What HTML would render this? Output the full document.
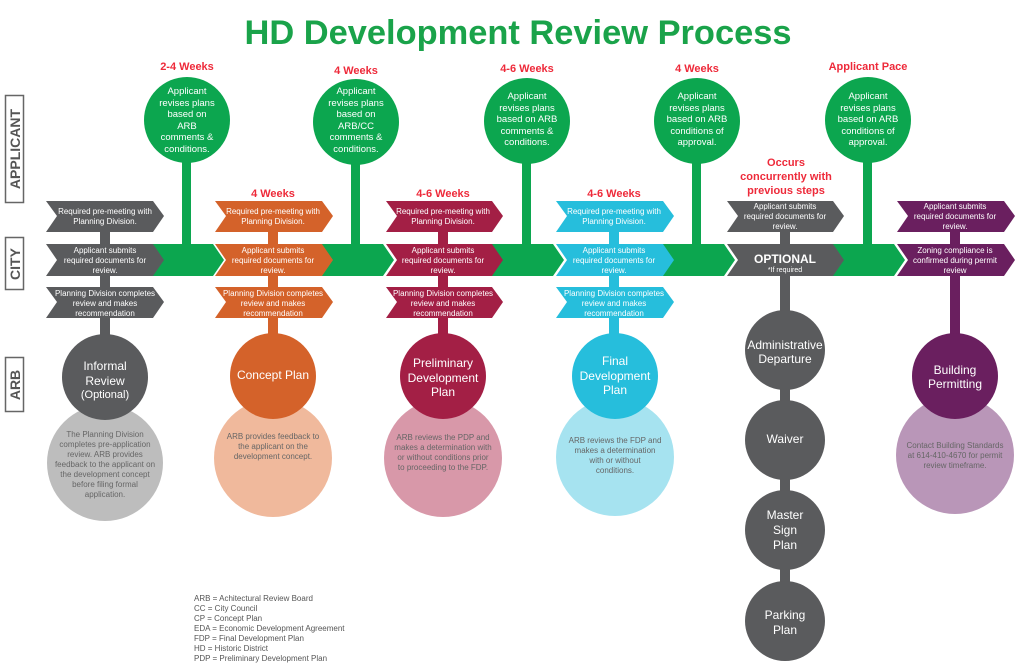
<!DOCTYPE html>
<html><head><meta charset="utf-8"><style>
html,body{margin:0;padding:0;background:#fff}
svg{display:block;font-family:"Liberation Sans",sans-serif}
.w{fill:#fff;font-size:8px;text-anchor:middle}
.gw{fill:#fff;font-size:9.5px;text-anchor:middle}
.r{fill:#ee2a3a;font-size:11px;font-weight:bold;text-anchor:middle}
.cw{fill:#fff;font-size:12px;text-anchor:middle}
.pt{fill:#666;font-size:8px;text-anchor:middle}
.lg{fill:#555;font-size:8px}
.lab{fill:#555;font-size:14px;font-weight:bold;text-anchor:middle}
</style></head><body>
<svg width="1024" height="666" viewBox="0 0 1024 666">
<text x="518" y="44" fill="#1aa34a" font-size="34" font-weight="bold" text-anchor="middle" textLength="547" lengthAdjust="spacingAndGlyphs">HD Development Review Process</text>

<!-- side labels -->
<rect x="5.5" y="95.5" width="18" height="107" fill="none" stroke="#666" stroke-width="1.5"/>
<text class="lab" transform="translate(20,149) rotate(-90)">APPLICANT</text>
<rect x="5.5" y="237.5" width="18" height="52" fill="none" stroke="#666" stroke-width="1.5"/>
<text class="lab" transform="translate(20,264) rotate(-90)">CITY</text>
<rect x="5.5" y="357.5" width="18" height="54" fill="none" stroke="#666" stroke-width="1.5"/>
<text class="lab" transform="translate(20,385) rotate(-90)">ARB</text>

<!-- green stems & connectors -->
<g fill="#0ca64f">
<rect x="182" y="150" width="9" height="100"/><rect x="351" y="150" width="9" height="100"/><rect x="522" y="150" width="9" height="100"/><rect x="692" y="150" width="9" height="100"/><rect x="863" y="150" width="9" height="100"/>
<polygon points="150,244 213,244 224,260 213,276 150,276 161,260"/>
<polygon points="319,244 383,244 394,260 383,276 319,276 330,260"/>
<polygon points="490,244 553,244 564,260 553,276 490,276 501,260"/>
<polygon points="660,244 724,244 735,260 724,276 660,276 671,260"/>
<polygon points="831,244 894,244 905,260 894,276 831,276 842,260"/>
<circle cx="187" cy="120" r="43"/><circle cx="356" cy="122" r="43"/><circle cx="527" cy="121" r="43"/><circle cx="697" cy="121" r="43"/><circle cx="868" cy="120" r="43"/>
</g>
<text class="r" x="187" y="70">2-4 Weeks</text>
<text class="r" x="356" y="74">4 Weeks</text>
<text class="r" x="527" y="72">4-6 Weeks</text>
<text class="r" x="697" y="72">4 Weeks</text>
<text class="r" x="868" y="70">Applicant Pace</text>
<g class="gw">
<text x="187" y="94">Applicant</text><text x="187" y="106">revises plans</text><text x="187" y="117">based on</text><text x="187" y="129">ARB</text><text x="187" y="140">comments &amp;</text><text x="187" y="152">conditions.</text>
<text x="356" y="94">Applicant</text><text x="356" y="106">revises plans</text><text x="356" y="117">based on</text><text x="356" y="129">ARB/CC</text><text x="356" y="140">comments &amp;</text><text x="356" y="152">conditions.</text>
<text x="527" y="99">Applicant</text><text x="527" y="111">revises plans</text><text x="527" y="122">based on ARB</text><text x="527" y="134">comments &amp;</text><text x="527" y="145">conditions.</text>
<text x="697" y="99">Applicant</text><text x="697" y="111">revises plans</text><text x="697" y="122">based on ARB</text><text x="697" y="134">conditions of</text><text x="697" y="145">approval.</text>
<text x="868" y="99">Applicant</text><text x="868" y="111">revises plans</text><text x="868" y="122">based on ARB</text><text x="868" y="134">conditions of</text><text x="868" y="145">approval.</text>
</g>
<text class="r" x="273" y="197">4 Weeks</text>
<text class="r" x="443" y="197">4-6 Weeks</text>
<text class="r" x="614" y="197">4-6 Weeks</text>
<text class="r" x="786" y="166">Occurs</text>
<text class="r" x="786" y="180">concurrently with</text>
<text class="r" x="786" y="194">previous steps</text>

<!-- column 1 gray -->
<rect x="100" y="210" width="10" height="140" fill="#5a5b5d"/>
<circle cx="105" cy="463" r="58" fill="#bdbdbd"/>
<circle cx="105" cy="377" r="43" fill="#5a5b5d"/>
<g fill="#5a5b5d">
<polygon points="46,201 153,201 164,216 153,232 46,232 57,216"/>
<polygon points="46,244 153,244 164,260 153,276 46,276 57,260"/>
<polygon points="46,287 153,287 164,302 153,318 46,318 57,302"/>
</g>
<!-- column 2 orange -->
<rect x="268" y="210" width="10" height="140" fill="#d4622a"/>
<circle cx="273" cy="458" r="59" fill="#f0b99c"/>
<circle cx="273" cy="376" r="43" fill="#d4622a"/>
<g fill="#d4622a">
<polygon points="215,201 322,201 333,216 322,232 215,232 226,216"/>
<polygon points="215,244 322,244 333,260 322,276 215,276 226,260"/>
<polygon points="215,287 322,287 333,302 322,318 215,318 226,302"/>
</g>
<!-- column 3 crimson -->
<rect x="438" y="210" width="10" height="140" fill="#a31f45"/>
<circle cx="443" cy="458" r="59" fill="#d898a9"/>
<circle cx="443" cy="376" r="43" fill="#a31f45"/>
<g fill="#a31f45">
<polygon points="386,201 492,201 503,216 492,232 386,232 397,216"/>
<polygon points="386,244 492,244 503,260 492,276 386,276 397,260"/>
<polygon points="386,287 492,287 503,302 492,318 386,318 397,302"/>
</g>
<!-- column 4 cyan -->
<rect x="609" y="210" width="10" height="140" fill="#26bedc"/>
<circle cx="615" cy="457" r="59" fill="#a6e3f0"/>
<circle cx="615" cy="376" r="43" fill="#26bedc"/>
<g fill="#26bedc">
<polygon points="556,201 663,201 674,216 663,232 556,232 567,216"/>
<polygon points="556,244 663,244 674,260 663,276 556,276 567,260"/>
<polygon points="556,287 663,287 674,302 663,318 556,318 567,302"/>
</g>
<!-- column 5 optional -->
<rect x="780" y="210" width="10" height="410" fill="#5a5b5d"/>
<g fill="#5a5b5d">
<circle cx="785" cy="350" r="40"/><circle cx="785" cy="440" r="40"/><circle cx="785" cy="530" r="40"/><circle cx="785" cy="621" r="40"/>
<polygon points="727,201 833,201 844,216 833,232 727,232 738,216"/>
<polygon points="727,244 833,244 844,260 833,276 727,276 738,260"/>
</g>
<!-- column 6 purple -->
<rect x="950" y="210" width="10" height="140" fill="#6a1f5f"/>
<circle cx="955" cy="455" r="59" fill="#b996b8"/>
<circle cx="955" cy="376" r="43" fill="#6a1f5f"/>
<g fill="#6a1f5f">
<polygon points="897,201 1004,201 1015,216 1004,232 897,232 908,216"/>
<polygon points="897,244 1004,244 1015,260 1004,276 897,276 908,260"/>
</g>

<!-- arrow texts -->
<g class="w">
<text x="105" y="214">Required pre-meeting with</text><text x="105" y="224">Planning Division.</text>
<text x="105" y="253">Applicant submits</text><text x="105" y="263">required documents for</text><text x="105" y="273">review.</text>
<text x="105" y="296">Planning Division completes</text><text x="105" y="306">review and makes</text><text x="105" y="316">recommendation</text>
<text x="273" y="214">Required pre-meeting with</text><text x="273" y="224">Planning Division.</text>
<text x="273" y="253">Applicant submits</text><text x="273" y="263">required documents for</text><text x="273" y="273">review.</text>
<text x="273" y="296">Planning Division completes</text><text x="273" y="306">review and makes</text><text x="273" y="316">recommendation</text>
<text x="443" y="214">Required pre-meeting with</text><text x="443" y="224">Planning Division.</text>
<text x="443" y="253">Applicant submits</text><text x="443" y="263">required documents for</text><text x="443" y="273">review.</text>
<text x="443" y="296">Planning Division completes</text><text x="443" y="306">review and makes</text><text x="443" y="316">recommendation</text>
<text x="614" y="214">Required pre-meeting with</text><text x="614" y="224">Planning Division.</text>
<text x="614" y="253">Applicant submits</text><text x="614" y="263">required documents for</text><text x="614" y="273">review.</text>
<text x="614" y="296">Planning Division completes</text><text x="614" y="306">review and makes</text><text x="614" y="316">recommendation</text>
<text x="785" y="209">Applicant submits</text><text x="785" y="219">required documents for</text><text x="785" y="229">review.</text>
<text x="955" y="209">Applicant submits</text><text x="955" y="219">required documents for</text><text x="955" y="229">review.</text>
<text x="955" y="253">Zoning compliance is</text><text x="955" y="263">confirmed during permit</text><text x="955" y="273">review</text>
<text x="785" y="272" font-size="7">*If required</text>
</g>
<text x="785" y="263" fill="#fff" font-size="12" font-weight="bold" text-anchor="middle">OPTIONAL</text>

<!-- circle texts -->
<g class="cw">
<text x="105" y="370">Informal</text><text x="105" y="385">Review</text><text x="105" y="398" font-size="11">(Optional)</text>
<text x="273" y="379">Concept Plan</text>
<text x="443" y="367">Preliminary</text><text x="443" y="382">Development</text><text x="443" y="396">Plan</text>
<text x="615" y="365">Final</text><text x="615" y="380">Development</text><text x="615" y="394">Plan</text>
<text x="955" y="374">Building</text><text x="955" y="388">Permitting</text>
<text x="785" y="349">Administrative</text><text x="785" y="363">Departure</text>
<text x="785" y="443">Waiver</text>
<text x="785" y="519">Master</text><text x="785" y="534">Sign</text><text x="785" y="549">Plan</text>
<text x="785" y="619">Parking</text><text x="785" y="634">Plan</text>
</g>
<g class="pt">
<text x="105" y="437">The Planning Division</text><text x="105" y="447">completes pre-application</text><text x="105" y="457">review. ARB provides</text><text x="105" y="467">feedback to the applicant on</text><text x="105" y="477">the development concept</text><text x="105" y="487">before filing formal</text><text x="105" y="497">application.</text>
<text x="273" y="439">ARB provides feedback to</text><text x="273" y="449">the applicant on the</text><text x="273" y="459">development concept.</text>
<text x="443" y="440">ARB reviews the PDP and</text><text x="443" y="450">makes a determination with</text><text x="443" y="460">or without conditions prior</text><text x="443" y="470">to proceeding to the FDP.</text>
<text x="615" y="443">ARB reviews the FDP and</text><text x="615" y="453">makes a determination</text><text x="615" y="463">with or without</text><text x="615" y="473">conditions.</text>
<text x="955" y="448">Contact Building Standards</text><text x="955" y="458">at 614-410-4670 for permit</text><text x="955" y="468">review timeframe.</text>
</g>

<g class="lg">
<text x="194" y="601">ARB = Achitectural Review Board</text>
<text x="194" y="611">CC = City Council</text>
<text x="194" y="621">CP = Concept Plan</text>
<text x="194" y="631">EDA = Economic Development Agreement</text>
<text x="194" y="641">FDP = Final Development Plan</text>
<text x="194" y="651">HD = Historic District</text>
<text x="194" y="661">PDP = Preliminary Development Plan</text>
</g>
</svg>
</body></html>
